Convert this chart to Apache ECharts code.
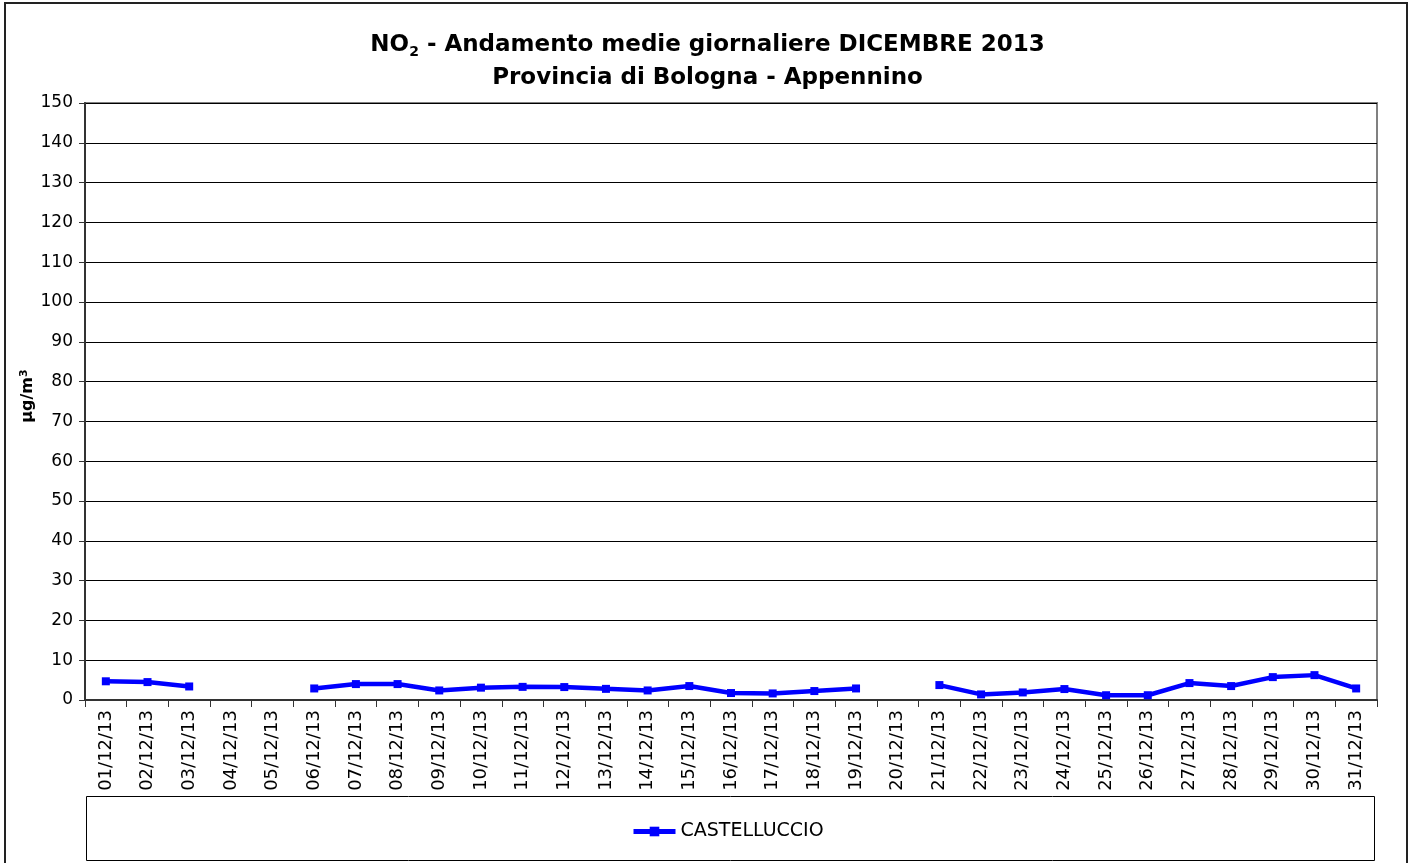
<!DOCTYPE html>
<html>
<head>
<meta charset="utf-8">
<script src="https://cdn.jsdelivr.net/npm/echarts@6/dist/echarts.min.js"></script>
<style>
html,body{margin:0;padding:0;background:#fff;}
#chart{width:1415px;height:863px;}
</style>
</head>
<body>
<div id="chart"></div>
<script>
const categories = ["01/12/13","02/12/13","03/12/13","04/12/13","05/12/13","06/12/13","07/12/13","08/12/13","09/12/13","10/12/13","11/12/13","12/12/13","13/12/13","14/12/13","15/12/13","16/12/13","17/12/13","18/12/13","19/12/13","20/12/13","21/12/13","22/12/13","23/12/13","24/12/13","25/12/13","26/12/13","27/12/13","28/12/13","29/12/13","30/12/13","31/12/13"];
const castelluccio = [4.7,4.5,3.4,null,null,2.9,4.0,4.0,2.4,3.1,3.3,3.25,2.8,2.4,3.5,1.75,1.65,2.25,2.9,null,3.75,1.4,1.9,2.75,1.2,1.2,4.25,3.5,5.75,6.25,2.9];
const seriesName = "CASTELLUCCIO";
const yAxisName = "µg/m{sup|3}";
const yMin = 0, yMax = 150, yInterval = 10;

const chart = echarts.init(document.getElementById('chart'), null, {renderer:'canvas'});
const font = 'DejaVu Sans, Arial, sans-serif';
chart.setOption({
  animation: false,
  backgroundColor: '#fff',
  textStyle: {fontFamily: font},
  title: [
    {
      text: 'NO{sub|2} - Andamento medie giornaliere DICEMBRE 2013',
      left: 'center', top: 26,
      textStyle: {fontFamily: font, fontSize: 23, fontWeight: 'bold', color: '#000',
        rich: {sub: {fontFamily: font, fontSize: 14, fontWeight: 'bold', color: '#000', verticalAlign: 'bottom', padding: [14,0,0,0]}}}
    },
    {
      text: 'Provincia di Bologna - Appennino',
      left: 'center', top: 62,
      textStyle: {fontFamily: font, fontSize: 23, fontWeight: 'bold', color: '#000'}
    }
  ],
  graphic: [
    {type:'rect', shape:{x:5,y:3,width:1402,height:870}, style:{fill:'none', stroke:'#222', lineWidth:2}, silent:true, z:-1},
    {type:'rect', shape:{x:86.5,y:796.5,width:1288,height:64}, style:{fill:'none', stroke:'#000', lineWidth:1}, silent:true, z:-1},
    {type:'text', x: 28, y: 396, rotation: Math.PI/2, silent: true,
      style: {text: yAxisName, align: 'center', verticalAlign: 'middle', fill: '#000',
        font: 'bold 16px ' + font,
        rich: {sup: {fontFamily: font, fontSize: 11, fontWeight: 'bold', fill: '#000', verticalAlign: 'top', padding: [0,0,8,0]}}}}
  ],
  legend: {
    left: 626, top: 817,
    itemWidth: 42, itemHeight: 12, itemGap: 12,
    lineStyle: {width: 5},
    textStyle: {fontFamily: font, fontSize: 19, color: '#000'},
    data: [seriesName]
  },
  grid: {left: 85, right: 38, top: 103, bottom: 163, show: true, borderColor: '#808080', borderWidth: 2, containLabel: false},
  xAxis: {
    type: 'category', data: categories, boundaryGap: true,
    axisLine: {lineStyle: {color: '#333', width: 2}},
    axisTick: {show: true, alignWithLabel: false, length: 7, lineStyle: {color: '#333'}},
    axisLabel: {rotate: 90, fontFamily: font, fontSize: 18, color: '#000', margin: 10, interval: 0}
  },
  yAxis: {
    type: 'value', min: yMin, max: yMax, interval: yInterval,
    axisLine: {show: true, lineStyle: {color: '#333', width: 2}},
    axisTick: {show: true, inside: false, length: 6, lineStyle: {color: '#333'}},
    axisLabel: {fontFamily: font, fontSize: 17, color: '#000', margin: 12},
    splitLine: {show: true, lineStyle: {color: '#000', width: 1}}
  },
  series: [{
    name: seriesName, type: 'line', data: castelluccio,
    connectNulls: false,
    symbol: 'rect', symbolSize: 8, showSymbol: true,
    lineStyle: {color: '#0000ff', width: 4.5},
    itemStyle: {color: '#0000ff'}
  }]
});
</script>
</body>
</html>
